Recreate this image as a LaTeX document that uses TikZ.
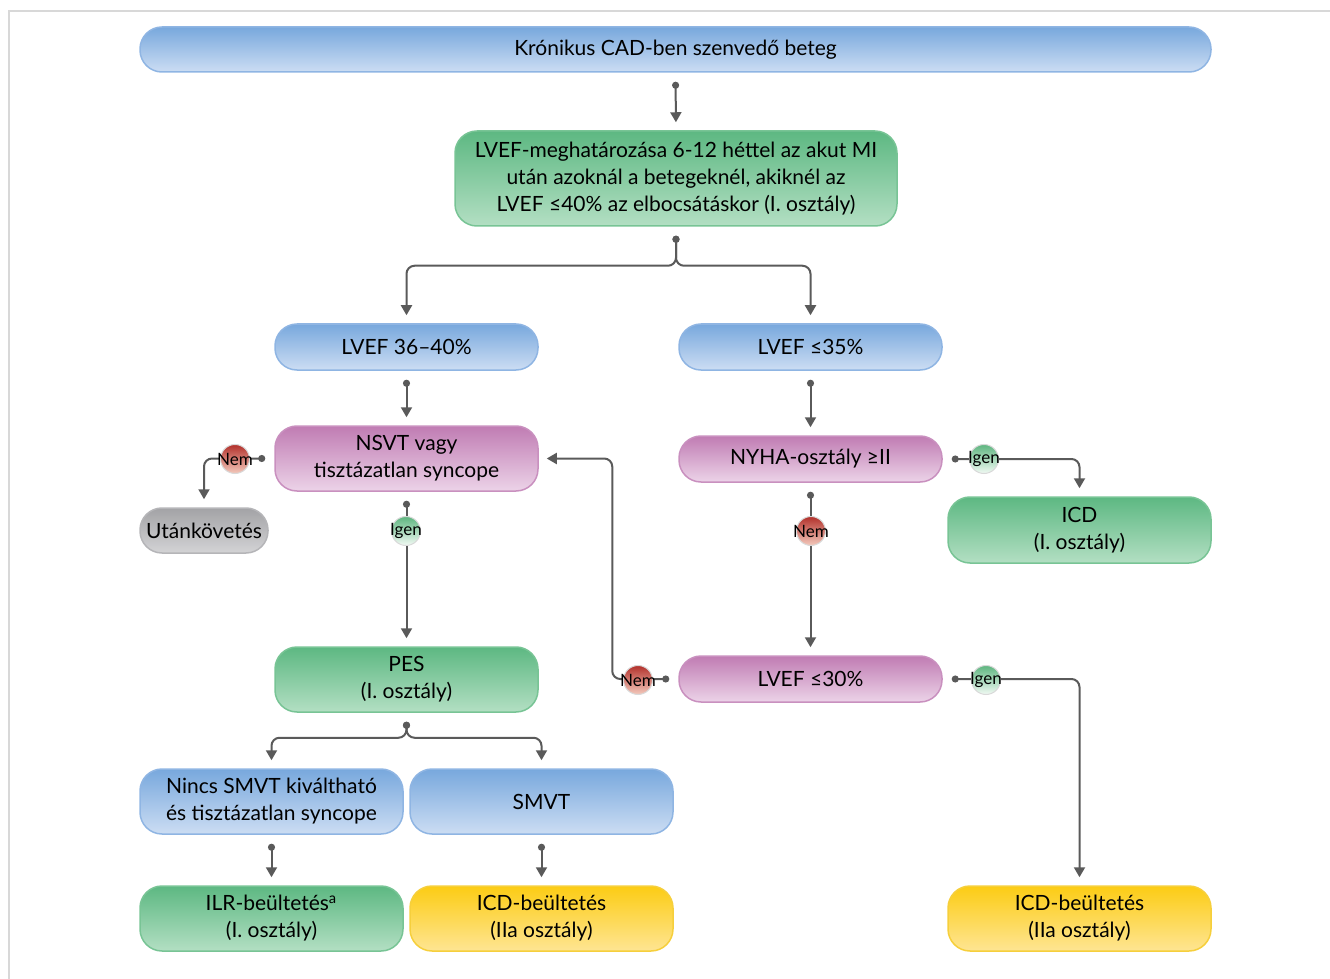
\documentclass[tikz,border=0pt]{standalone}
\usepackage{fontspec}
\setmainfont{Lato}
\usetikzlibrary{arrows.meta,calc}
\definecolor{BlueTop}{HTML}{78A8DD}
\definecolor{BlueBot}{HTML}{CCDDF3}
\definecolor{BlueLine}{HTML}{8FB5E3}
\definecolor{GreenTop}{HTML}{5DB882}
\definecolor{GreenBot}{HTML}{B3DFC3}
\definecolor{GreenLine}{HTML}{78C495}
\definecolor{PurpleTop}{HTML}{C07CB3}
\definecolor{PurpleBot}{HTML}{ECD3E8}
\definecolor{PurpleLine}{HTML}{C990BF}
\definecolor{GrayTop}{HTML}{A3A3A6}
\definecolor{GrayBot}{HTML}{D3D3D5}
\definecolor{GrayLine}{HTML}{B5B5B8}
\definecolor{YellowTop}{HTML}{FCCC14}
\definecolor{YellowBot}{HTML}{FEE593}
\definecolor{YellowLine}{HTML}{F6CF3C}
\definecolor{NemTop}{HTML}{B2302A}
\definecolor{NemBot}{HTML}{F4CABD}
\definecolor{IgenTop}{HTML}{5DB57F}
\definecolor{IgenBot}{HTML}{F2FAF4}
\definecolor{LineClr}{HTML}{5A5A5A}
\definecolor{FrameClr}{HTML}{D8D8D8}

\begin{document}
\begin{tikzpicture}[x=0.5pt,y=-0.5pt,
  box/.style={rounded corners=11pt,line width=0.75pt,minimum width=131.5pt,minimum height=23pt,
    align=center,inner sep=2pt,font=\fontsize{10.5}{13.5}\selectfont},
  bluebox/.style={box,draw=BlueLine,top color=BlueTop,bottom color=BlueBot},
  greenbox/.style={box,draw=GreenLine,top color=GreenTop,bottom color=GreenBot},
  purplebox/.style={box,draw=PurpleLine,top color=PurpleTop,bottom color=PurpleBot},
  graybox/.style={box,draw=GrayLine,top color=GrayTop,bottom color=GrayBot},
  yellowbox/.style={box,draw=YellowLine,top color=YellowTop,bottom color=YellowBot},
  badge/.style={circle,minimum size=14.5pt,inner sep=0pt,draw=white!85!black,line width=0.5pt,
    font=\fontsize{8.5}{9}\selectfont},
  nembadge/.style={badge,top color=NemTop,bottom color=NemBot},
  igenbadge/.style={badge,top color=IgenTop,bottom color=IgenBot},
  conn/.style={draw=LineClr,line width=1pt,rounded corners=4pt,
    {Circle[length=3.5pt]}-{Triangle[length=5pt,width=5.5pt]},shorten <=4.5pt,shorten >=4pt}]

\useasboundingbox (0,0) rectangle (1330,979);
\draw[FrameClr,line width=0.75pt] (9,979) -- (9,11) -- (1330,11);

% boxes
\node[bluebox,minimum width=535.5pt,minimum height=22.5pt] (patient) at (675.5,49.5) {Krónikus CAD-ben szenvedő beteg};
\node[greenbox,minimum width=221pt,minimum height=47.5pt] (lvef) at (676,178.5)
  {LVEF-meghatározása 6-12 héttel az akut MI\\után azoknál a betegeknél, akiknél az\\LVEF ≤40\% az elbocsátáskor (I. osztály)};
\node[bluebox] (lvefmid) at (406.5,347) {LVEF 36–40\%};
\node[bluebox] (lveflow) at (810.5,347) {LVEF ≤35\%};
\node[purplebox,minimum height=32.5pt] (nsvt) at (406.5,458.5) {NSVT vagy\\tisztázatlan syncope};
\node[purplebox] (nyha) at (810.5,459) {NYHA-osztály ≥II};
\node[graybox,minimum width=64pt,minimum height=22.5pt] (follow) at (204,530.5) {Utánkövetés};
\node[greenbox,minimum height=33pt] (icdA) at (1079.5,530) {ICD\\(I. osztály)};
\node[greenbox,minimum height=32.5pt] (pes) at (406.5,679.5) {PES\\(I. osztály)};
\node[purplebox] (lvefvlow) at (810.5,679) {LVEF ≤30\%};
\node[bluebox,minimum height=32.5pt] (nosmvt) at (271.5,801.5) {Nincs SMVT kiváltható\\és tisztázatlan syncope};
\node[bluebox,minimum height=32.5pt] (smvt) at (541.5,801.5) {SMVT};
\node[greenbox,minimum height=32.5pt] (ilr) at (271.5,918.5) {ILR-beültetés\textsuperscript{a}\\(I. osztály)};
\node[yellowbox,minimum height=32.5pt] (icdB) at (541.5,918.5) {ICD-beültetés\\(IIa osztály)};
\node[yellowbox,minimum height=32.5pt] (icdC) at (1079.5,918.5) {ICD-beültetés\\(IIa osztály)};

% connectors
\draw[conn] (patient.south) -- (lvef.north);
\draw[conn] (lvef.south) -- ++(0,39) -| (lvefmid.north);
\draw[conn] (lvef.south) -- ++(0,39) -| (lveflow.north);
\draw[conn] (lvefmid.south) -- (nsvt.north);
\draw[conn] (lveflow.south) -- (nyha.north);
\draw[conn] (nsvt.west) -| (follow.north);
\draw[conn] (nsvt.south) -- (pes.north);
\draw[conn] (nyha.east) -| (icdA.north);
\draw[conn] (nyha.south) -- (lvefvlow.north);
\draw[conn] (lvefvlow.west) -- ++(-66,0) |- (nsvt.east);
\draw[conn] (lvefvlow.east) -| (icdC.north);
\draw[conn] (pes.south) -- ++(0,25) -| (nosmvt.north);
\draw[conn] (pes.south) -- ++(0,25) -| (smvt.north);
\draw[conn] (nosmvt.south) -- (ilr.north);
\draw[conn] (smvt.south) -- (icdB.north);

% yes / no badges
\node[nembadge] (nemA) at (235,459) {\makebox[0pt]{Nem}};
\node[igenbadge] (igenA) at (406,531) {\makebox[0pt]{Igen}};
\node[igenbadge] (igenB) at (984,459) {\makebox[0pt]{Igen}};
\node[nembadge] (nemB) at (811,531) {\makebox[0pt]{Nem}};
\node[nembadge] (nemC) at (638,680) {\makebox[0pt]{Nem}};
\node[igenbadge] (igenC) at (986,680) {\makebox[0pt]{Igen}};

\end{tikzpicture}
\end{document}
